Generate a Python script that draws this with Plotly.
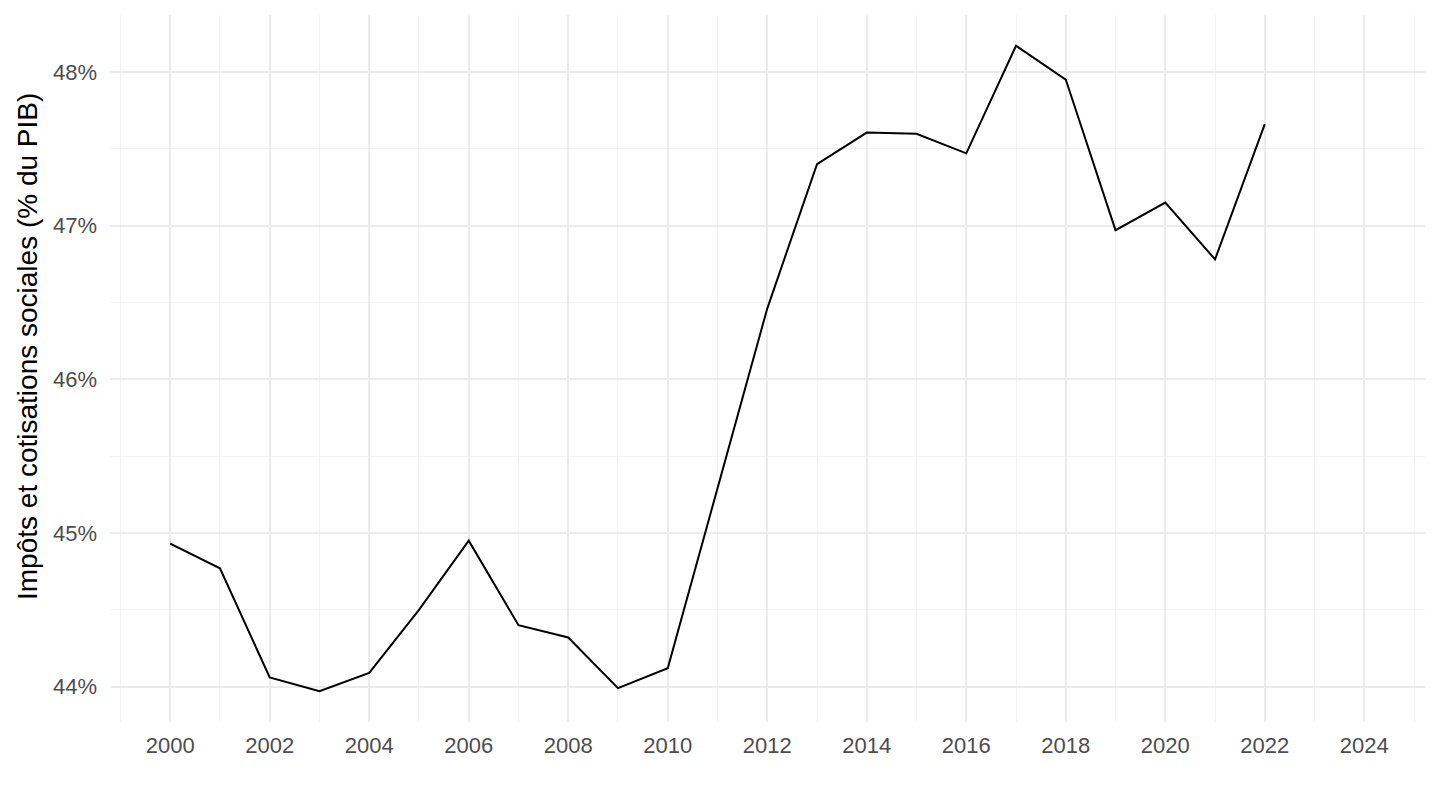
import plotly.graph_objects as go

years = list(range(2000, 2023))
values = [44.93, 44.77, 44.06, 43.97, 44.09, 44.50, 44.95, 44.40, 44.32, 43.99, 44.12,
          45.29, 46.46, 47.40, 47.605, 47.597, 47.47, 48.17, 47.95, 46.97, 47.15, 46.78, 47.66]
x_ticks = list(range(2000, 2025, 2))
y_ticks = [44, 45, 46, 47, 48]
y_tick_labels = [f"{v}%" for v in y_ticks]
y_title = "Impôts et cotisations sociales (% du PIB)"

fig = go.Figure()
fig.add_trace(go.Scatter(x=years, y=values, mode="lines",
                         line=dict(color="black", width=2), showlegend=False))

fig.update_layout(
    width=1440, height=810,
    paper_bgcolor="white", plot_bgcolor="white",
    margin=dict(l=102, r=23, t=7, b=96),
    font=dict(family="Liberation Sans, Arial, sans-serif"),
)
fig.update_xaxes(
    range=[1998.79, 2025.22], tickvals=x_ticks, ticktext=[str(t) for t in x_ticks],
    showgrid=True, gridcolor="#EBEBEB", gridwidth=2, zeroline=False, showline=False,
    tickfont=dict(size=22, color="#4D4D4D"), ticks="", ticklabelstandoff=8, automargin=False,
    minor=dict(dtick=1, tick0=1999, showgrid=True, gridcolor="#F2F2F2", gridwidth=1),
)
fig.update_yaxes(
    range=[43.77, 48.37], tickvals=y_ticks, ticktext=y_tick_labels,
    showgrid=True, gridcolor="#EBEBEB", gridwidth=2, zeroline=False, showline=False,
    tickfont=dict(size=22, color="#4D4D4D"), ticks="", ticklabelstandoff=12, automargin=False,
    minor=dict(dtick=0.5, tick0=43.5, showgrid=True, gridcolor="#F2F2F2", gridwidth=1),
)
fig.add_annotation(
    text=y_title, textangle=-90, xref="paper", yref="paper",
    x=(27 - 110) / 1315, y=(722 - 347) / 707, xanchor="center", yanchor="middle",
    showarrow=False, font=dict(size=28, color="black"),
)
fig.write_html("out.html")
